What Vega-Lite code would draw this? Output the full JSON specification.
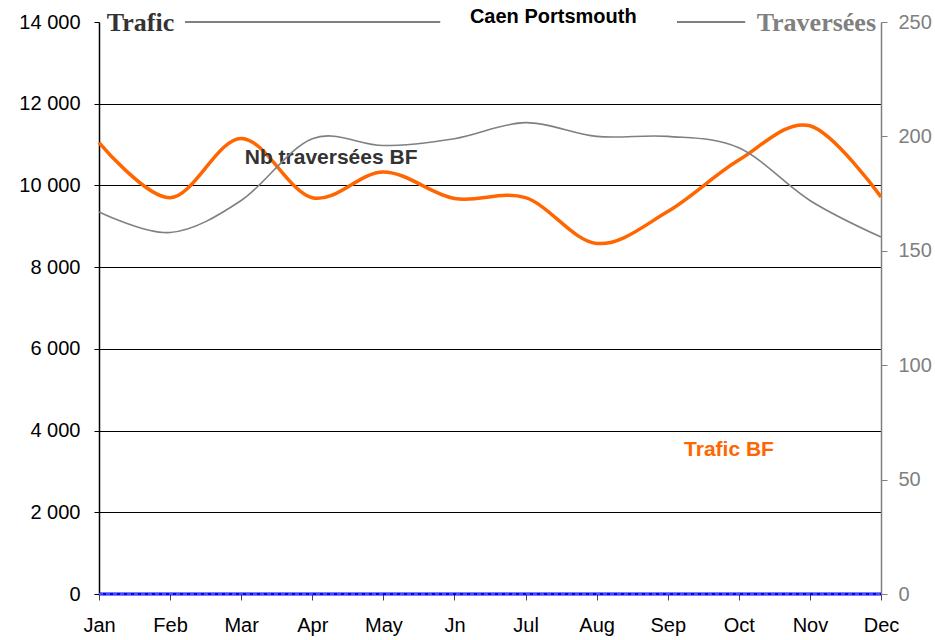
{
  "$schema": "https://vega.github.io/schema/vega-lite/v6.json",
  "autosize": {"type": "none"},
  "width": 782,
  "height": 572,
  "padding": {"left": 99, "top": 22, "right": 54, "bottom": 46},
  "background": "white",
  "config": {
    "view": {"stroke": null},
    "font": "Liberation Sans",
    "axis": {"labelFont": "Liberation Sans", "labelFontSize": 20, "labelColor": "#000000", "tickColor": "#000000", "domainColor": "#000000"}
  },
  "datasets": {
    "series": [
      {"m": 0, "trafic": 11050, "traversees": 167, "zero": 0},
      {"m": 1, "trafic": 9700, "traversees": 158, "zero": 0},
      {"m": 2, "trafic": 11150, "traversees": 172, "zero": 0},
      {"m": 3, "trafic": 9700, "traversees": 199, "zero": 0},
      {"m": 4, "trafic": 10330, "traversees": 196, "zero": 0},
      {"m": 5, "trafic": 9680, "traversees": 199, "zero": 0},
      {"m": 6, "trafic": 9700, "traversees": 206, "zero": 0},
      {"m": 7, "trafic": 8580, "traversees": 200, "zero": 0},
      {"m": 8, "trafic": 9360, "traversees": 200, "zero": 0},
      {"m": 9, "trafic": 10620, "traversees": 195, "zero": 0},
      {"m": 10, "trafic": 11460, "traversees": 172, "zero": 0},
      {"m": 11, "trafic": 9720, "traversees": 156, "zero": 0}
    ],
    "labels": [
      {"m": 2.05, "v": 10671, "t": "Nb traversées BF", "kind": "nb"},
      {"m": 8.23, "v": 3525, "t": "Trafic BF", "kind": "tr"}
    ],
    "header": [
      {"m": 0.11, "v": 14000, "t": "Trafic"}
    ],
    "segments": [
      {"a": 1.21, "b": 4.8, "v": 14000},
      {"a": 8.13, "b": 9.09, "v": 14000}
    ]
  },
  "layer": [
    {
      "layer": [
        {
          "data": {"name": "series"},
          "mark": {"type": "line", "color": "#FF6600", "strokeWidth": 3.5, "interpolate": "cardinal"},
          "encoding": {
            "x": {"field": "m", "type": "quantitative", "scale": {"domain": [0, 11], "nice": false, "zero": false},
              "axis": {"values": [0,1,2,3,4,5,6,7,8,9,10,11], "labelExpr": "['Jan','Feb','Mar','Apr','May','Jn','Jul','Aug','Sep','Oct','Nov','Dec'][datum.value]", "labelFlush": false, "labelOverlap": false, "title": null, "grid": false, "domain": false, "tickSize": 6, "tickColor": "#444444", "labelPadding": 15, "labelFontSize": 20}},
            "y": {"field": "trafic", "type": "quantitative", "scale": {"domain": [0, 14000], "nice": false},
              "axis": {"values": [0,2000,4000,6000,8000,10000,12000,14000], "labelExpr": "replace(datum.label, ',', ' ')", "title": null, "grid": true, "gridColor": {"condition": {"test": "datum.value == 14000 || datum.value == 0", "value": "transparent"}, "value": "#000000"}, "gridWidth": 1, "tickSize": 5, "labelPadding": 14, "domainWidth": 1.5}}
          }
        },
        {
          "data": {"name": "series"},
          "mark": {"type": "line", "color": "#0000FF", "strokeWidth": 3},
          "encoding": {"x": {"field": "m", "type": "quantitative"}, "y": {"field": "zero", "type": "quantitative"}}
        },
        {
          "data": {"name": "series"},
          "mark": {"type": "line", "color": "#9999cc", "strokeWidth": 1, "strokeDash": [4, 3]},
          "encoding": {"x": {"field": "m", "type": "quantitative"}, "y": {"field": "zero", "type": "quantitative"}}
        },
        {
          "data": {"name": "segments"},
          "mark": {"type": "rule", "color": "#000000", "strokeWidth": 1},
          "encoding": {"x": {"field": "a", "type": "quantitative"}, "x2": {"field": "b"}, "y": {"field": "v", "type": "quantitative"}}
        },
        {
          "data": {"name": "header"},
          "mark": {"type": "text", "font": "Liberation Serif", "fontWeight": "bold", "fontSize": 26, "color": "#333333", "align": "left", "baseline": "middle", "dy": 1},
          "encoding": {"x": {"field": "m", "type": "quantitative"}, "y": {"field": "v", "type": "quantitative"}, "text": {"field": "t"}}
        },
        {
          "data": {"values": [{"m": 6.39, "v": 14000, "t": "Caen Portsmouth"}]},
          "mark": {"type": "text", "font": "Liberation Sans", "fontWeight": "bold", "fontSize": 20, "color": "#000000", "align": "center", "baseline": "middle", "dy": -5},
          "encoding": {"x": {"field": "m", "type": "quantitative"}, "y": {"field": "v", "type": "quantitative"}, "text": {"field": "t"}}
        },
        {
          "data": {"name": "labels"},
          "mark": {"type": "text", "font": "Liberation Sans", "fontWeight": "bold", "fontSize": 21, "align": "left", "baseline": "middle"},
          "encoding": {"x": {"field": "m", "type": "quantitative"}, "y": {"field": "v", "type": "quantitative"}, "text": {"field": "t"},
            "color": {"field": "kind", "type": "nominal", "scale": {"domain": ["nb", "tr"], "range": ["#333333", "#FF6600"]}, "legend": null}}
        }
      ]
    },
    {
      "layer": [
        {
          "data": {"name": "series"},
          "mark": {"type": "line", "color": "#808080", "strokeWidth": 1.6, "interpolate": "cardinal"},
          "encoding": {
            "x": {"field": "m", "type": "quantitative"},
            "y": {"field": "traversees", "type": "quantitative", "scale": {"domain": [0, 250], "nice": false},
              "axis": {"orient": "right", "values": [0,50,100,150,200,250], "title": null, "grid": false, "labelColor": "#808080", "tickColor": "#808080", "domainColor": "#808080", "domainWidth": 1.5, "tickSize": 6, "labelPadding": 11, "labelFontSize": 20}}
          }
        },
        {
          "data": {"values": [{"m": 10.93, "v": 250, "t": "Traversées"}]},
          "mark": {"type": "text", "font": "Liberation Serif", "fontWeight": "bold", "fontSize": 26, "color": "#808080", "align": "right", "baseline": "middle", "dy": 1},
          "encoding": {"x": {"field": "m", "type": "quantitative"}, "y": {"field": "v", "type": "quantitative"}, "text": {"field": "t"}}
        }
      ]
    }
  ],
  "resolve": {"scale": {"y": "independent"}}
}
